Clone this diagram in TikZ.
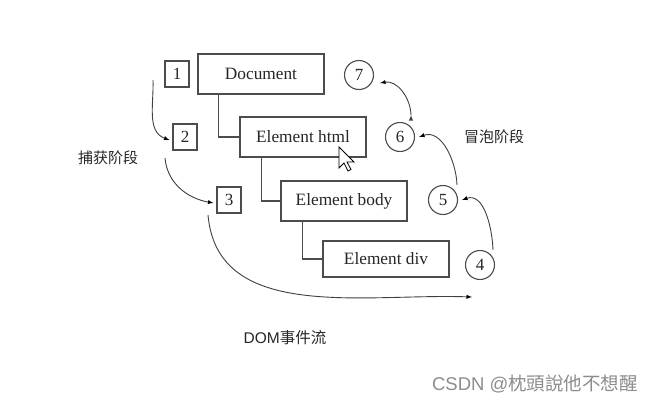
\documentclass[tikz,border=0pt]{standalone}
\usepackage{fontspec}
\setmainfont{Liberation Serif}
\setsansfont{Liberation Sans}
\newfontfamily\cjk{Noto Sans CJK SC}
\usepackage{tikz}
\usetikzlibrary{arrows}

\tikzset{
  elem/.style={draw=black!70, line width=1.3pt, minimum width=126pt, minimum height=40pt, font=\fontsize{17.3}{19}\selectfont, text=black!85},
  numbox/.style={draw=black!70, line width=1.1pt, minimum width=24pt, minimum height=26pt, inner sep=0pt, font=\fontsize{17}{19}\selectfont, text=black!85},
  numcirc/.style={circle, draw=black!70, line width=1.1pt, minimum size=29pt, inner sep=0pt, font=\fontsize{17}{19}\selectfont, text=black!85},
  flow/.style={draw=black!75, line width=0.9pt, -latex}
}

\begin{document}
\begin{tikzpicture}[x=1pt, y=-1pt]
  \useasboundingbox[fill=white] (0,0) rectangle (656,405);

  \node[elem] (doc) at (261,74) {Document};
  \node[elem] (html) at (303,137) {Element html};
  \node[elem] (body) at (344,201) {Element body};
  \node[elem, minimum height=36pt] (div) at (386,259) {Element div};

  \node[numbox] (n1) at (177,74) {1};
  \node[numbox] (n2) at (185,137) {2};
  \node[numbox] (n3) at (229,200) {3};

  \node[numcirc] (n4) at (480,265) {4};
  \node[numcirc] (n5) at (443,200) {5};
  \node[numcirc] (n6) at (400,137) {6};
  \node[numcirc] (n7) at (359,75) {7};

  \node[font=\cjk\fontsize{15}{17}\selectfont, text=black!85] (capture) at (108,158) {捕获阶段};
  \node[font=\cjk\fontsize{15}{17}\selectfont, text=black!85] (bubble) at (494,137) {冒泡阶段};
  \node[font=\fontsize{15.5}{17}\selectfont, text=black!85] (title) at (285,338) {{\sffamily DOM}{\cjk 事件流}};
  \node[font=\fontsize{18.5}{20}\selectfont, text=black!45] (mark) at (535,384) {{\sffamily CSDN @}{\cjk 枕頭說他不想醒}};

  % tree
  \draw[black!70, line width=1.3pt] ([xshift=21pt]doc.south west) |- (html.west);
  \draw[black!70, line width=1.3pt] ([xshift=22pt]html.south west) |- (body.west);
  \draw[black!70, line width=1.3pt] ([xshift=22pt]body.south west) |- (div.west);

  % free ends
  \coordinate (c1) at (153,80);
  \coordinate (c2) at (165,158);
  \coordinate (c3) at (208,215);
  \coordinate (c4) at (472,297);
  \coordinate (b1) at (493,250);
  \coordinate (b2) at (457,185);
  \coordinate (b3) at (411,115);

  \path[flow]
  (c1) edge [out=-88, in=160] ([xshift=-3pt, yshift=-3pt]n2.west)
  (c2) edge [out=-85, in=170] ([xshift=-3pt, yshift=-3pt]n3.west)
  (c3) edge [out=-85, in=178] (c4)
  (b1) edge [out=92, in=20] ([xshift=4pt]n5.east)
  (b2) edge [out=92, in=20] ([xshift=4pt]n6.east)
  (b3) edge [out=92, in=10] ([xshift=6pt, yshift=-8pt]n7.east);

  % mouse pointer
  \draw[fill=white, line width=0.8pt] (339,147) -- ++(0,21) -- ++(5,-5) -- ++(4,8) -- ++(3,-1.5) -- ++(-4,-7.5) -- ++(7,0) -- cycle;
\end{tikzpicture}
\end{document}
